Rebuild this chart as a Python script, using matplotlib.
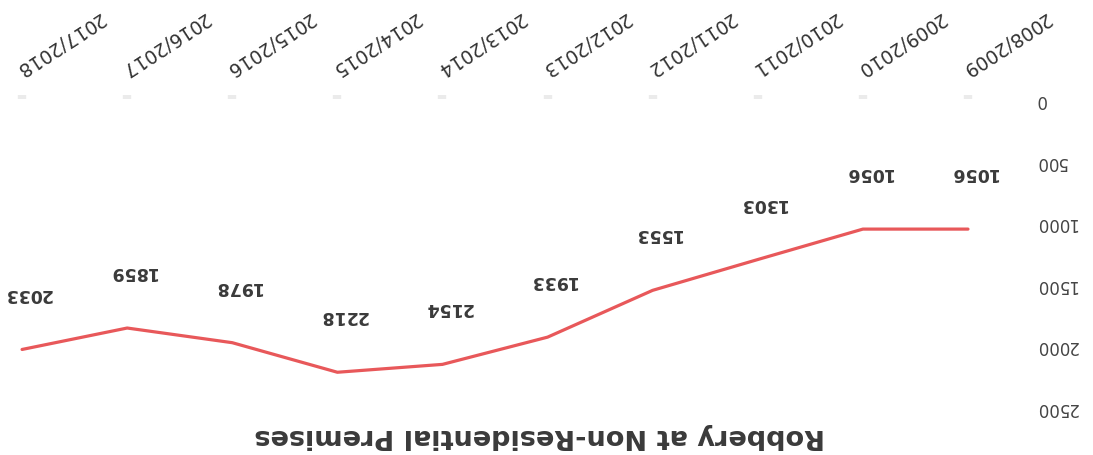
import matplotlib
matplotlib.use("Agg")
import matplotlib.pyplot as plt

# Robbery at non-residential premises, by financial year
years = ["2008/2009", "2009/2010", "2010/2011", "2011/2012", "2012/2013",
         "2013/2014", "2014/2015", "2015/2016", "2016/2017", "2017/2018"]
robberies = [1056, 1056, 1303, 1553, 1933, 2154, 2218, 1978, 1859, 2033]
y_ticks = [0, 500, 1000, 1500, 2000, 2500]
title = "Robbery at Non-Residential Premises"

W, H, DPI = 1093, 456, 100
fig = plt.figure(figsize=(W / DPI, H / DPI), dpi=DPI)
fig.patch.set_facecolor("white")

# axes box in pixel terms (the whole page is printed upside down)
left_px, right_px, top_px, bottom_px = 0, 1020, 100, 408
ax = fig.add_axes([left_px / W, (H - bottom_px) / H,
                   (right_px - left_px) / W, (bottom_px - top_px) / H])

x = list(range(len(years)))
ax.plot(x, robberies, color="#e8585a", lw=2.3, solid_capstyle="round")

# inverted page: both axes run backwards
ax.set_xlim(9.21, -0.495)
ax.set_ylim(2500, 0)

for s in ax.spines.values():
    s.set_visible(False)

ax.xaxis.tick_top()
ax.set_xticks(x)
ax.set_xticklabels(years, rotation=213, ha="right", va="top",
                   rotation_mode="anchor", fontsize=13.5, color="#333333")
ax.tick_params(axis="x", which="major", length=3, width=6,
               color="#ebebeb", pad=12, direction="out")

ax.yaxis.tick_right()
ax.set_yticks(y_ticks)
ax.set_yticklabels([str(v) for v in y_ticks], rotation=180, va="center",
                   fontsize=12, color="#444444")
ax.tick_params(axis="y", length=0, pad=11)

for xi, v in zip(x, robberies):
    ax.annotate(str(v), (xi, v), xytext=(4, 41), textcoords="offset points",
                ha="center", va="center", rotation=180, fontsize=12.5,
                fontweight="bold", color="#3a3a3a")

fig.text(540 / W, 1 - 436 / H, title, rotation=180, ha="center",
         va="center", fontsize=19.5, fontweight="bold", color="#3a3a3a")

fig.savefig("out.png", dpi=DPI, facecolor="white")
